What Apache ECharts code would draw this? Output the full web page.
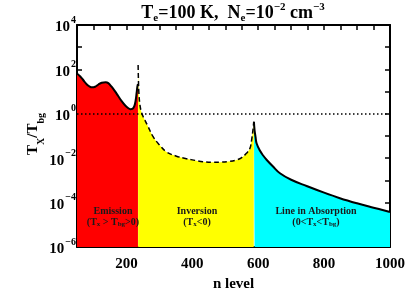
<!DOCTYPE html>
<html>
<head>
<meta charset="utf-8">
<script src="https://cdn.jsdelivr.net/npm/echarts@6/dist/echarts.min.js"></script>
<style>html,body{margin:0;padding:0;background:#fff}#c{width:415px;height:297px}</style>
</head>
<body>
<div id="c"></div>
<script>
// Emission region (solid line, red fill)
const nEmission = [50, 60, 70, 80, 90, 95, 105, 115, 125, 137, 145, 155, 165, 175, 185, 195, 205, 212, 218, 224, 228, 231, 233, 235];
const vEmission = [66, 48, 31.6, 20.9, 16.2, 15.5, 16.6, 20.9, 25.1, 26.3, 24.0, 16.6, 10.5, 6.3, 3.8, 2.5, 1.82, 1.62, 1.66, 2.24, 3.98, 8.9, 15.8, 22];
// Inversion region (|Tx|/Tbg, dashed line, yellow fill)
const nInversion = [235.5, 236.5, 238, 241, 245, 250, 256, 265, 281, 300, 321, 350, 382, 410, 432, 460, 484, 510, 534, 550, 565, 575, 580, 583, 585, 586.5];
const vInversion = [158, 31.6, 7.9, 2.5, 1.26, 0.79, 0.52, 0.28, 0.093, 0.040, 0.0195, 0.0126, 0.0095, 0.0079, 0.0069, 0.0065, 0.0066, 0.0071, 0.0083, 0.0107, 0.017, 0.028, 0.066, 0.14, 0.25, 0.44];
// Absorption region (solid line, cyan fill)
const nAbsorption = [587, 589, 592, 595, 605, 615, 626, 645, 666, 700, 747, 800, 848, 900, 950, 1000];
const vAbsorption = [0.44, 0.18, 0.089, 0.047, 0.022, 0.0132, 0.0083, 0.0042, 0.0021, 0.00107, 0.00056, 0.00028, 0.000158, 0.000093, 0.000059, 0.000038];
// Reference level
const refLevel = 1;
// Axis
const xMin = 50, xMax = 1000, xTickStep = 50, xLabelStep = 200;
const yMin = 1e-6, yMax = 1e4;

const FONT = 'Liberation Serif';
const chart = echarts.init(document.getElementById('c'), null, {renderer: 'canvas'});
const pair = (ns, vs) => ns.map((n, i) => [n, vs[i]]);

const yLabelRich = {
  b: {fontFamily: FONT, fontWeight: 'bold', fontSize: 15, color: '#000', verticalAlign: 'bottom', lineHeight: 20},
  s: {fontFamily: FONT, fontWeight: 'bold', fontSize: 10, color: '#000', verticalAlign: 'top', lineHeight: 20, padding: [0, 0, 0, 1]}
};

const axisLine = {show: true, lineStyle: {color: '#000', width: 2}};
const axisTick = {show: true, inside: true, length: 5, lineStyle: {color: '#000', width: 1.5}};

const option = {
  animation: false,
  backgroundColor: '#fff',
  grid: {left: 77, right: 25, top: 25, bottom: 50, containLabel: false},
  xAxis: [
    {
      type: 'value', min: xMin, max: xMax, interval: xTickStep, position: 'bottom',
      axisLine: axisLine, axisTick: axisTick, splitLine: {show: false},
      axisLabel: {
        formatter: v => (v % xLabelStep === 0 ? String(v) : ''),
        fontFamily: FONT, fontWeight: 'bold', fontSize: 15, color: '#000', margin: 10
      },
      name: 'n level', nameLocation: 'middle', nameGap: 27,
      nameTextStyle: {fontFamily: FONT, fontWeight: 'bold', fontSize: 15, color: '#000'}
    },
    {
      type: 'value', min: xMin, max: xMax, interval: xTickStep, position: 'top',
      axisLine: axisLine, axisTick: axisTick, splitLine: {show: false}, axisLabel: {show: false}
    }
  ],
  yAxis: [
    {
      type: 'log', logBase: 10, min: yMin, max: yMax, interval: 1, position: 'left',
      axisLine: axisLine, axisTick: axisTick, splitLine: {show: false}, minorTick: {show: false},
      axisLabel: {
        formatter: v => {
          const e = Math.round(Math.log10(v));
          if (e % 2 !== 0) return '';
          return '{b|10}{s|' + (e < 0 ? '\u2212' + (-e) : e) + '}';
        },
        rich: yLabelRich, margin: 1
      }
    },
    {
      type: 'log', logBase: 10, min: yMin, max: yMax, interval: 1, position: 'right',
      axisLine: axisLine, axisTick: axisTick, splitLine: {show: false}, axisLabel: {show: false}
    }
  ],
  series: [
    {
      type: 'line', data: pair(nEmission, vEmission), showSymbol: false, symbol: 'none',
      smooth: 0.4,
      lineStyle: {color: '#000', width: 2},
      areaStyle: {color: '#ff0000', opacity: 1, origin: 'start'},
      z: 3,
      markLine: {
        silent: true, symbol: 'none', label: {show: false},
        lineStyle: {color: '#000', type: [1.5, 2.5], width: 1.5},
        data: [{yAxis: refLevel}]
      }
    },
    {
      type: 'line', data: pair(nInversion, vInversion), showSymbol: false, symbol: 'none',
      smooth: 0.4,
      lineStyle: {color: '#000', width: 1.5, type: [5, 3]},
      areaStyle: {color: '#ffff00', opacity: 1, origin: 'start'},
      z: 2
    },
    {
      type: 'line', data: pair(nAbsorption, vAbsorption), showSymbol: false, symbol: 'none',
      smooth: 0.4,
      lineStyle: {color: '#000', width: 2},
      areaStyle: {color: '#00ffff', opacity: 1, origin: 'start'},
      z: 3
    }
  ],
  graphic: [
    {
      type: 'text', x: 233, y: 13, z: 100,
      style: {
        text: '{t|T}{sub|e}{t|=100 K,  N}{sub|e}{t|=10}{sup|\u22122}{t| cm}{sup|\u22123}',
        align: 'center', verticalAlign: 'middle',
        rich: {
          t: {fontFamily: FONT, fontWeight: 'bold', fontSize: 18, fill: '#000', lineHeight: 22, verticalAlign: 'middle'},
          sub: {fontFamily: FONT, fontWeight: 'bold', fontSize: 11, fill: '#000', lineHeight: 22, verticalAlign: 'bottom'},
          sup: {fontFamily: FONT, fontWeight: 'bold', fontSize: 11, fill: '#000', lineHeight: 22, verticalAlign: 'top'}
        }
      }
    },
    {
      type: 'text', x: 36, y: 134, rotation: Math.PI / 2, z: 100,
      style: {
        text: '{b|T}{sb|X}{b|/T}{sb|bg}',
        align: 'center', verticalAlign: 'middle',
        rich: {
          b: {fontFamily: FONT, fontWeight: 'bold', fontSize: 15, fill: '#000', verticalAlign: 'top', lineHeight: 20},
          sb: {fontFamily: FONT, fontWeight: 'bold', fontSize: 10, fill: '#000', verticalAlign: 'bottom', lineHeight: 20}
        }
      }
    },
    {
      type: 'text', x: 113, y: 217, z: 100,
      style: {
        text: '{t|Emission}\n{t|(T}{s|x}{t| > T}{s|bg}{t|>0)}',
        align: 'center', verticalAlign: 'middle',
        rich: {
          t: {fontFamily: FONT, fontWeight: 'bold', fontSize: 10, fill: '#1a1a1a', lineHeight: 11},
          s: {fontFamily: FONT, fontWeight: 'bold', fontSize: 7, fill: '#1a1a1a', lineHeight: 11, verticalAlign: 'bottom'}
        }
      }
    },
    {
      type: 'text', x: 197, y: 217, z: 100,
      style: {
        text: '{t|Inversion}\n{t|(T}{s|x}{t|<0)}',
        align: 'center', verticalAlign: 'middle',
        rich: {
          t: {fontFamily: FONT, fontWeight: 'bold', fontSize: 10, fill: '#1a1a1a', lineHeight: 11},
          s: {fontFamily: FONT, fontWeight: 'bold', fontSize: 7, fill: '#1a1a1a', lineHeight: 11, verticalAlign: 'bottom'}
        }
      }
    },
    {
      type: 'text', x: 316, y: 217, z: 100,
      style: {
        text: '{t|Line in Absorption}\n{t|(0<T}{s|x}{t|<T}{s|bg}{t|)}',
        align: 'center', verticalAlign: 'middle',
        rich: {
          t: {fontFamily: FONT, fontWeight: 'bold', fontSize: 10, fill: '#1a1a1a', lineHeight: 11},
          s: {fontFamily: FONT, fontWeight: 'bold', fontSize: 7, fill: '#1a1a1a', lineHeight: 11, verticalAlign: 'bottom'}
        }
      }
    }
  ]
};
chart.setOption(option);
</script>
</body>
</html>
